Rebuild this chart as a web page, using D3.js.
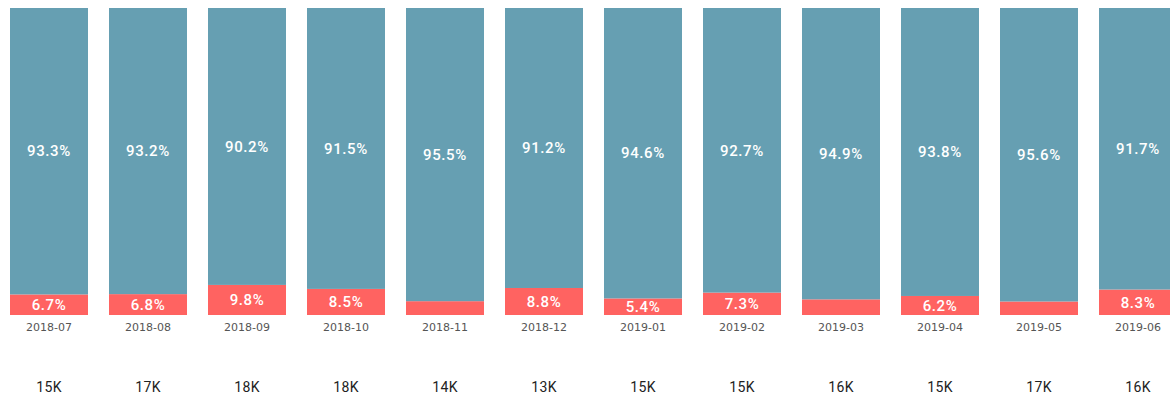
<!DOCTYPE html>
<html>
<head>
<meta charset="UTF-8" />
<style>
  body { margin: 0; background: #fff; }
  svg { display: block; }
  .pct { font: 500 15px 'Roboto', sans-serif; fill: #fff; letter-spacing: 0.6px; }
  .month { font: 11px 'DejaVu Sans', sans-serif; fill: #555; }
  .total { font: 14px 'Roboto', sans-serif; fill: #222; letter-spacing: 0.4px; }
</style>
</head>
<body>
<svg id="chart" width="1170" height="398"></svg>
<script src="https://d3js.org/d3.v7.min.js"></script>
<script>
  const months = ["2018-07","2018-08","2018-09","2018-10","2018-11","2018-12",
                  "2019-01","2019-02","2019-03","2019-04","2019-05","2019-06"];
  const bluePct = [93.3, 93.2, 90.2, 91.5, 95.5, 91.2, 94.6, 92.7, 94.9, 93.8, 95.6, 91.7];
  const redPct  = [6.7, 6.8, 9.8, 8.5, 4.5, 8.8, 5.4, 7.3, 5.1, 6.2, 4.4, 8.3];
  const totals  = ["15K","17K","18K","18K","14K","13K","15K","15K","16K","15K","17K","16K"];

  const BLUE = "#669fb2";
  const RED = "#ff6361";
  const LABEL_MIN = 5.3; // smaller red segments get no label

  const svg = d3.select("#chart");

  const x = d3.scaleBand()
    .domain(months)
    .range([10, 1177])
    .paddingInner(21 / 99)
    .paddingOuter(0);

  const y = d3.scaleLinear().domain([0, 100]).range([315, 8]);

  const rows = months.map((m, i) => ({ m, red: redPct[i], blue: bluePct[i], total: totals[i] }));

  const g = svg.selectAll(".bar").data(rows).enter().append("g").attr("class", "bar");

  // red at bottom, blue stacked on top
  g.append("rect")
    .attr("x", d => x(d.m))
    .attr("width", x.bandwidth())
    .attr("y", d => y(d.red))
    .attr("height", d => y(0) - y(d.red))
    .attr("fill", RED);

  g.append("rect")
    .attr("x", d => x(d.m))
    .attr("width", x.bandwidth())
    .attr("y", d => y(d.red + d.blue))
    .attr("height", d => y(d.red) - y(d.red + d.blue))
    .attr("fill", BLUE);

  g.append("text")
    .attr("class", "pct")
    .attr("x", d => x(d.m) + x.bandwidth() / 2)
    .attr("y", d => (y(d.red) + y(d.red + d.blue)) / 2)
    .attr("dy", "0.35em")
    .attr("text-anchor", "middle")
    .text(d => d.blue.toFixed(1) + "%");

  g.filter(d => d.red >= LABEL_MIN).append("text")
    .attr("class", "pct")
    .attr("x", d => x(d.m) + x.bandwidth() / 2)
    .attr("y", d => (y(0) + y(d.red)) / 2)
    .attr("dy", "0.35em")
    .attr("text-anchor", "middle")
    .text(d => d.red.toFixed(1) + "%");

  g.append("text")
    .attr("class", "month")
    .attr("x", d => x(d.m) + x.bandwidth() / 2)
    .attr("y", 327)
    .attr("dy", "0.35em")
    .attr("text-anchor", "middle")
    .text(d => d.m);

  g.append("text")
    .attr("class", "total")
    .attr("x", d => x(d.m) + x.bandwidth() / 2)
    .attr("y", 387)
    .attr("dy", "0.35em")
    .attr("text-anchor", "middle")
    .text(d => d.total);
</script>
</body>
</html>
